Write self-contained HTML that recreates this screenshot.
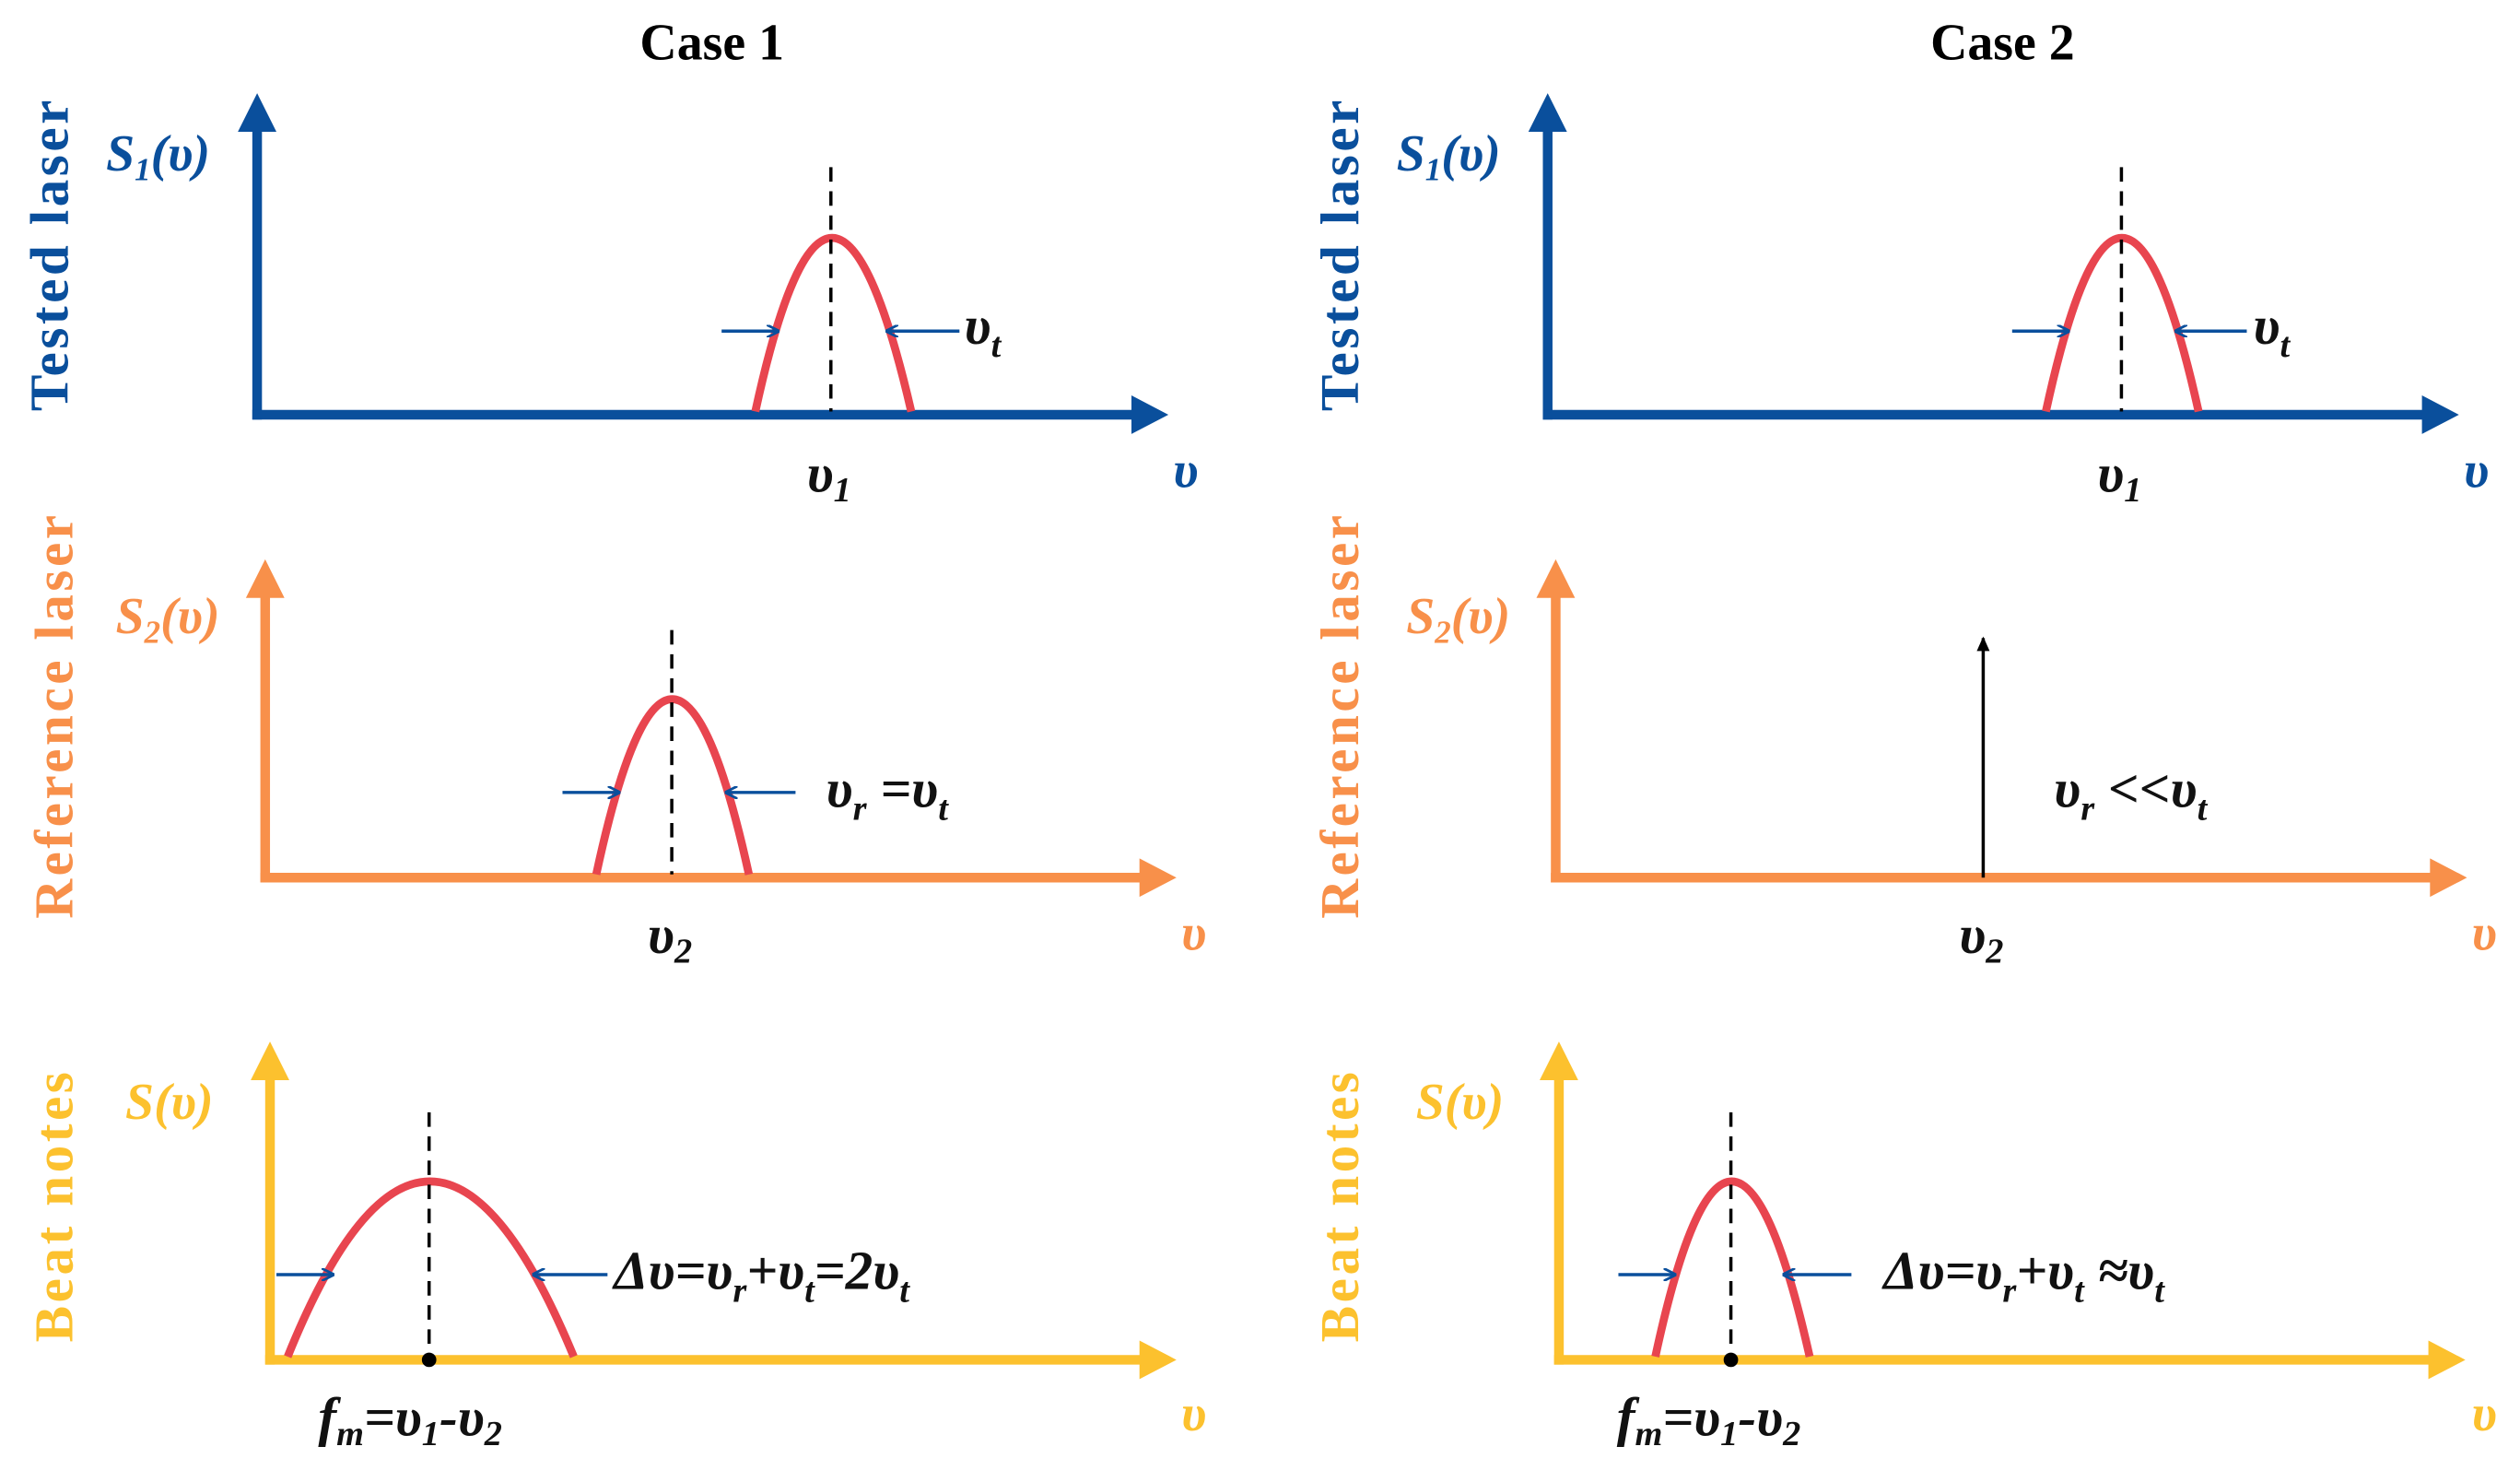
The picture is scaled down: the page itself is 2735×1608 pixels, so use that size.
<!DOCTYPE html>
<html><head><meta charset="utf-8"><style>
html,body{margin:0;padding:0;background:#fff;}
svg{display:block}
text{font-family:"Liberation Serif",serif;}
.it{font-style:italic}
</style></head><body>
<svg width="2735" height="1608" viewBox="0 0 1568 922" preserveAspectRatio="none" xmlns="http://www.w3.org/2000/svg">
<defs>
<marker id="sb" markerWidth="8" markerHeight="8" refX="7" refY="4" orient="auto" markerUnits="userSpaceOnUse"><path d="M0,0 L8,4 L0,8" fill="none" stroke="#0a4f9c" stroke-width="1.6"/></marker>
<marker id="bk" markerWidth="8" markerHeight="10" refX="4" refY="1" orient="0" markerUnits="userSpaceOnUse"><path d="M0,9 L4,0 L8,9 Z" fill="#000"/></marker>
</defs>
<g font-weight="bold" font-size="32" text-anchor="middle">
<text x="443" y="37">Case 1</text>
<text x="1246" y="37">Case 2</text>
</g>

<g fill="#0a4f9c" stroke="#0a4f9c">
<line x1="160" y1="78" x2="160" y2="261" stroke-width="6"/><path d="M148,82 L160,58 L172,82Z" stroke="none"/>
<line x1="157" y1="258" x2="707" y2="258" stroke-width="6"/><path d="M704,246 L727,258 L704,270Z" stroke="none"/>
<line x1="963" y1="78" x2="963" y2="261" stroke-width="6"/><path d="M951,82 L963,58 L975,82Z" stroke="none"/>
<line x1="960" y1="258" x2="1510" y2="258" stroke-width="6"/><path d="M1507,246 L1530,258 L1507,270Z" stroke="none"/>
</g>
<g fill="#f8904a" stroke="#f8904a">
<line x1="165" y1="368" x2="165" y2="549" stroke-width="6"/><path d="M153,372 L165,348 L177,372Z" stroke="none"/>
<line x1="162" y1="546" x2="712" y2="546" stroke-width="6"/><path d="M709,534 L732,546 L709,558Z" stroke="none"/>
<line x1="968" y1="368" x2="968" y2="549" stroke-width="6"/><path d="M956,372 L968,348 L980,372Z" stroke="none"/>
<line x1="965" y1="546" x2="1515" y2="546" stroke-width="6"/><path d="M1512,534 L1535,546 L1512,558Z" stroke="none"/>
</g>
<g fill="#fcc12e" stroke="#fcc12e">
<line x1="168" y1="668" x2="168" y2="849" stroke-width="6"/><path d="M156,672 L168,648 L180,672Z" stroke="none"/>
<line x1="165" y1="846" x2="712" y2="846" stroke-width="6"/><path d="M709,834 L732,846 L709,858Z" stroke="none"/>
<line x1="970" y1="668" x2="970" y2="849" stroke-width="6"/><path d="M958,672 L970,648 L982,672Z" stroke="none"/>
<line x1="967" y1="846" x2="1514" y2="846" stroke-width="6"/><path d="M1511,834 L1534,846 L1511,858Z" stroke="none"/>
</g>

<g fill="none" stroke="#e8454f" stroke-width="5">
<path d="M470,256 Q517,40 567,256"/>
<path d="M1273,256 Q1320,40 1368,256"/>
<path d="M371,544 Q418,326 466,544"/>
<path d="M179,844 Q267,626 357,844"/>
<path d="M1030,844 Q1077,626 1126,844"/>
</g>
<g stroke="#000" stroke-width="2" stroke-dasharray="9,6">
<line x1="517" y1="104" x2="517" y2="256"/>
<line x1="1320" y1="104" x2="1320" y2="256"/>
<line x1="418" y1="392" x2="418" y2="544"/>
<line x1="267" y1="692" x2="267" y2="844"/>
<line x1="1077" y1="692" x2="1077" y2="844"/>
</g>
<g stroke="#0a4f9c" stroke-width="2" marker-end="url(#sb)">
<line x1="449" y1="206" x2="484" y2="206"/>
<line x1="597" y1="206" x2="552" y2="206"/>
<line x1="1252" y1="206" x2="1287" y2="206"/>
<line x1="1398" y1="206" x2="1354" y2="206"/>
<line x1="350" y1="493" x2="385" y2="493"/>
<line x1="495" y1="493" x2="452" y2="493"/>
<line x1="172" y1="793" x2="207" y2="793"/>
<line x1="378" y1="793" x2="332" y2="793"/>
<line x1="1007" y1="793" x2="1042" y2="793"/>
<line x1="1152" y1="793" x2="1110" y2="793"/>
</g>
<line x1="1234" y1="546" x2="1234" y2="397" stroke="#000" stroke-width="2" marker-end="url(#bk)"/>
<circle cx="267" cy="846" r="4.5" fill="#000"/>
<circle cx="1077" cy="846" r="4.5" fill="#000"/>

<g font-weight="bold" font-size="34" letter-spacing="2" text-anchor="middle">
<text transform="translate(42,158) rotate(-90)" fill="#0a4f9c">Tested laser</text>
<text transform="translate(845,158) rotate(-90)" fill="#0a4f9c">Tested laser</text>
<text transform="translate(45,445) rotate(-90)" fill="#f8904a">Reference laser</text>
<text transform="translate(845,445) rotate(-90)" fill="#f8904a">Reference laser</text>
<text transform="translate(45,750) rotate(-90)" fill="#fcc12e">Beat notes</text>
<text transform="translate(845,750) rotate(-90)" fill="#fcc12e">Beat notes</text>
</g>

<g class="it" font-weight="bold" font-size="32">
<text x="66" y="106" fill="#0a4f9c">S<tspan font-size="20" dy="6">1</tspan><tspan dy="-6">(υ)</tspan></text>
<text x="869" y="106" fill="#0a4f9c">S<tspan font-size="20" dy="6">1</tspan><tspan dy="-6">(υ)</tspan></text>
<text x="72" y="394" fill="#f8904a">S<tspan font-size="20" dy="6">2</tspan><tspan dy="-6">(υ)</tspan></text>
<text x="875" y="394" fill="#f8904a">S<tspan font-size="20" dy="6">2</tspan><tspan dy="-6">(υ)</tspan></text>
<text x="78" y="696" fill="#fcc12e">S(υ)</text>
<text x="881" y="696" fill="#fcc12e">S(υ)</text>
<text x="730" y="303" fill="#0a4f9c">υ</text>
<text x="1533" y="303" fill="#0a4f9c">υ</text>
<text x="735" y="591" fill="#f8904a">υ</text>
<text x="1538" y="591" fill="#f8904a">υ</text>
<text x="735" y="890" fill="#fcc12e">υ</text>
<text x="1538" y="890" fill="#fcc12e">υ</text>
</g>
<g class="it" font-weight="bold" font-size="34" fill="#111">
<text x="502" y="306">υ<tspan font-size="22" dy="6">1</tspan></text>
<text x="1305" y="306">υ<tspan font-size="22" dy="6">1</tspan></text>
<text x="403" y="593">υ<tspan font-size="22" dy="6">2</tspan></text>
<text x="1219" y="593">υ<tspan font-size="22" dy="6">2</tspan></text>
<text x="600" y="214">υ<tspan font-size="22" dy="8">t</tspan></text>
<text x="1402" y="214">υ<tspan font-size="22" dy="8">t</tspan></text>
<text x="514" y="502">υ<tspan font-size="22" dy="8">r</tspan><tspan dy="-8"> =υ</tspan><tspan font-size="22" dy="8">t</tspan></text>
<text x="1278" y="502">υ<tspan font-size="22" dy="8">r</tspan><tspan dy="-8"> &lt;&lt;υ</tspan><tspan font-size="22" dy="8">t</tspan></text>
<text x="382" y="802">Δυ=υ<tspan font-size="22" dy="8">r</tspan><tspan dy="-8">+υ</tspan><tspan font-size="22" dy="8">t</tspan><tspan dy="-8">=2υ</tspan><tspan font-size="22" dy="8">t</tspan></text>
<text x="1172" y="802">Δυ=υ<tspan font-size="22" dy="8">r</tspan><tspan dy="-8">+υ</tspan><tspan font-size="22" dy="8">t</tspan><tspan dy="-8"> ≈υ</tspan><tspan font-size="22" dy="8">t</tspan></text>
<text x="198" y="893">f<tspan font-size="22" dy="6">m</tspan><tspan dy="-6">=υ</tspan><tspan font-size="22" dy="6">1</tspan><tspan dy="-6">-υ</tspan><tspan font-size="22" dy="6">2</tspan></text>
<text x="1006" y="893">f<tspan font-size="22" dy="6">m</tspan><tspan dy="-6">=υ</tspan><tspan font-size="22" dy="6">1</tspan><tspan dy="-6">-υ</tspan><tspan font-size="22" dy="6">2</tspan></text>
</g>
</svg>
</body></html>
